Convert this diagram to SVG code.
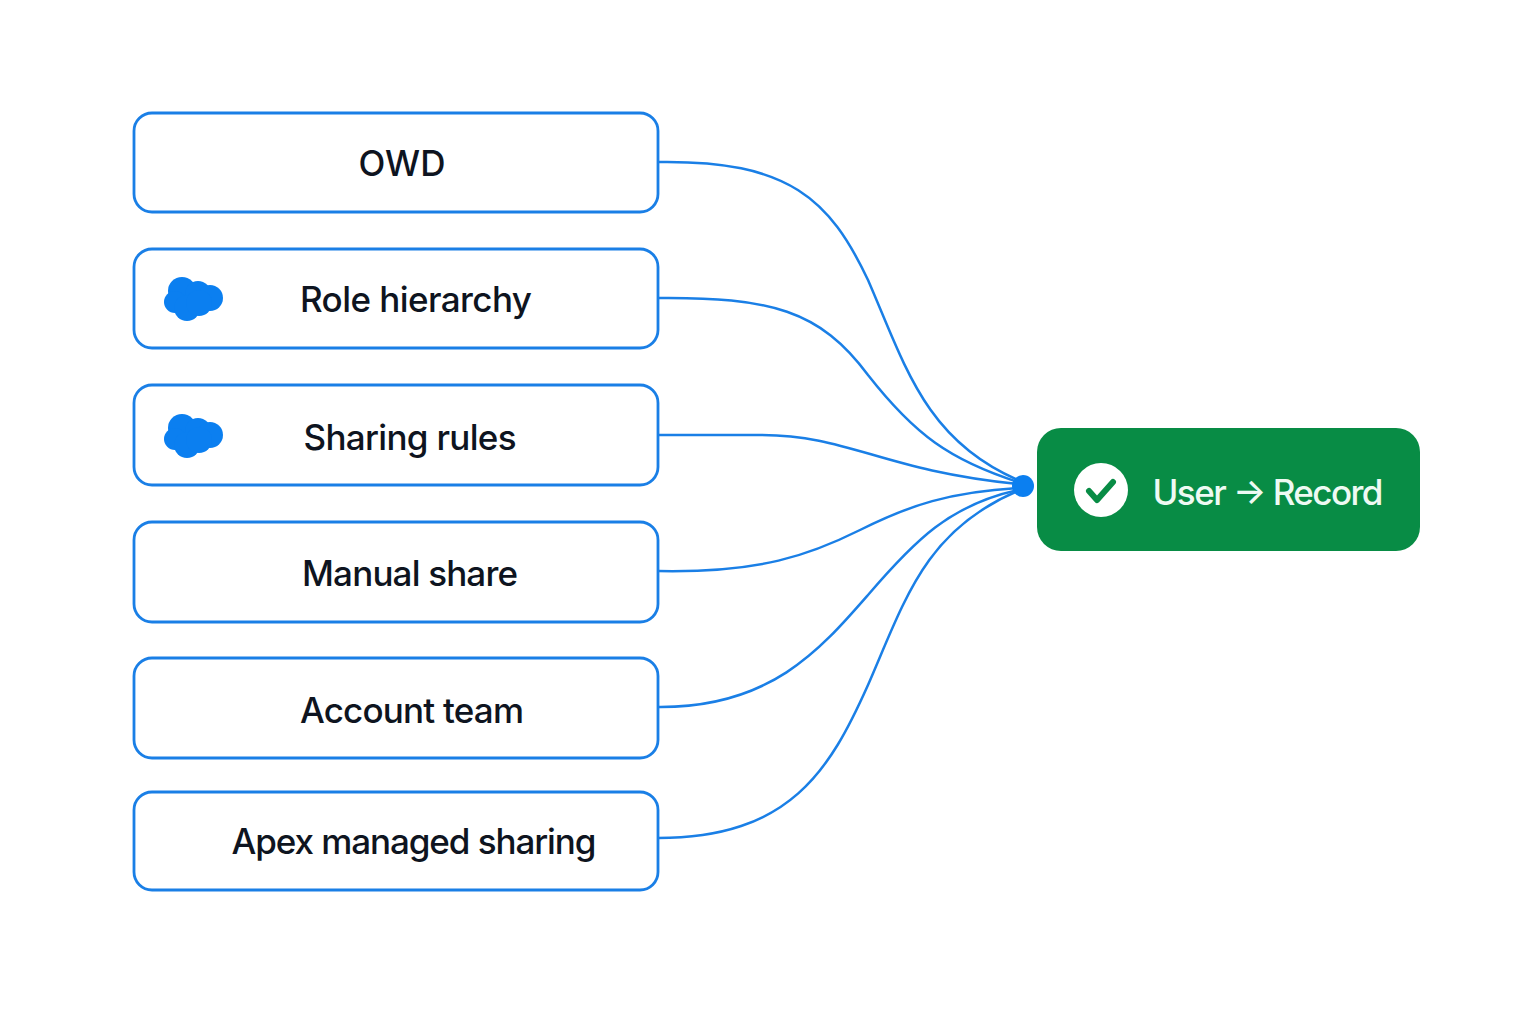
<svg xmlns="http://www.w3.org/2000/svg" width="1536" height="1024" viewBox="0 0 1536 1024">
<style>
.box{fill:#fff;stroke:#1a7fe6;stroke-width:2.8}
.lbl{font-family:"Inter","Noto Sans",sans-serif;font-size:35px;font-weight:500;fill:#0e1420;text-anchor:middle}
.wire{fill:none;stroke:#1a7fe6;stroke-width:2.5}
.cloud{fill:#0b7ff0}
</style>
<defs>
<g id="cloud"><circle cx="182" cy="291" r="14"/><circle cx="198" cy="294" r="13"/><circle cx="210" cy="298" r="13"/><circle cx="175" cy="302" r="11"/><circle cx="187" cy="308" r="13"/><circle cx="199" cy="303" r="13"/></g>
</defs>
<rect width="1536" height="1024" fill="#fff"/>
<g id="connectors">
<path class="wire" d="M658 162C790 160 830 200 868 280C905 365 925 440 1018 480"/>
<path class="wire" d="M658 298C770 297 820 310 868 375C915 435 950 460 1018 482"/>
<path class="wire" d="M658 435H760C850 435 880 470 1018 484"/>
<path class="wire" d="M658 571C760 573 810 555 860 530C910 505 950 492 1018 488"/>
<path class="wire" d="M658 707C770 708 820 650 868 595C915 540 950 505 1018 490"/>
<path class="wire" d="M658 838C790 838 830 770 868 685C905 600 925 530 1018 491"/>
</g>
<g id="n1"><rect class="box" x="134" y="113" width="524" height="99" rx="18"/><text class="lbl" x="402" y="176" textLength="87">OWD</text></g>
<g id="n2"><rect class="box" x="134" y="249" width="524" height="99" rx="18"/><use href="#cloud" class="cloud"/><text class="lbl" x="416" y="312" textLength="232">Role hierarchy</text></g>
<g id="n3"><rect class="box" x="134" y="385" width="524" height="100" rx="18"/><use href="#cloud" class="cloud" y="137"/><text class="lbl" x="410" y="450" textLength="213">Sharing rules</text></g>
<g id="n4"><rect class="box" x="134" y="522" width="524" height="100" rx="18"/><text class="lbl" x="410" y="586" textLength="216">Manual share</text></g>
<g id="n5"><rect class="box" x="134" y="658" width="524" height="100" rx="18"/><text class="lbl" x="412" y="723" textLength="224">Account team</text></g>
<g id="n6"><rect class="box" x="134" y="792" width="524" height="98" rx="18"/><text class="lbl" x="414" y="854" textLength="365">Apex managed sharing</text></g>
<g id="target"><circle cx="1023" cy="486" r="11" fill="#0b7ff0"/><rect x="1037" y="428" width="383" height="123" rx="24" fill="#088c45"/><circle cx="1101" cy="490" r="27" fill="#fff"/><path d="M1089 491L1097 500L1113 482" fill="none" stroke="#088c45" stroke-width="6" stroke-linecap="round" stroke-linejoin="round"/><text x="1268" y="505" font-family="Inter,'Noto Sans',sans-serif" font-size="35" font-weight="500" fill="#eefaf3" text-anchor="middle" textLength="231">User → Record</text></g>
</svg>
